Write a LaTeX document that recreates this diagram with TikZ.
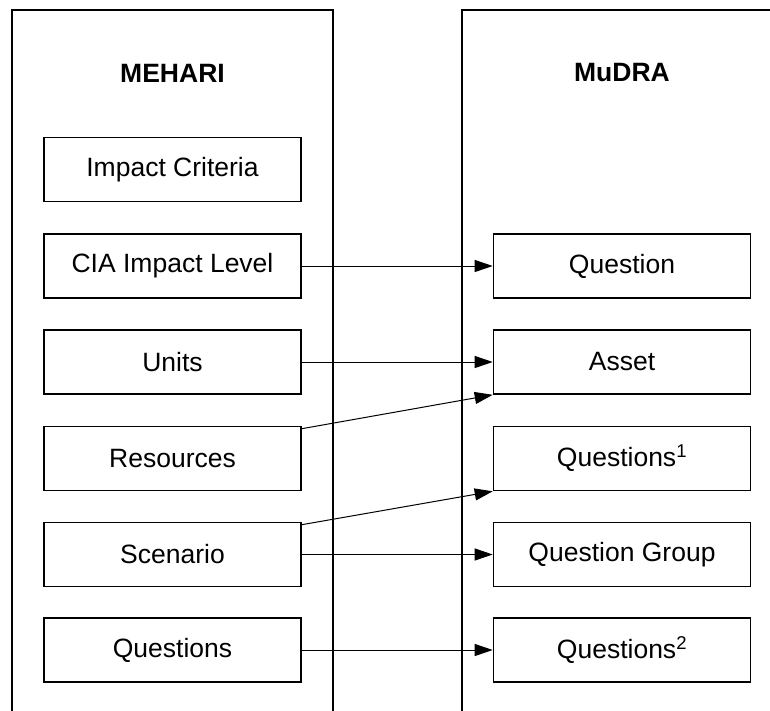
\documentclass[tikz,border=0pt]{standalone}
\usepackage{fontspec}
\setmainfont{Liberation Sans}
\usetikzlibrary{arrows.meta}
\begin{document}
\begin{tikzpicture}[x=1pt,y=-1pt,
  frame/.style={line width=1.6pt},
  item/.style={draw,line width=1.6pt,minimum width=257pt,minimum height=64pt,
    inner sep=0pt,font=\fontsize{26.5}{30}\selectfont},
  title/.style={font=\fontsize{26.5}{30}\selectfont\bfseries},
  link/.style={line width=1pt,-{Triangle[length=18pt,width=12pt]}}]
  \useasboundingbox (0,0) rectangle (770,711);
  % column frames, open at the bottom (and at the right for MuDRA)
  \draw[frame] (12,712) -- (12,10) -- (333,10) -- (333,712);
  \draw[frame] (462,712) -- (462,10) -- (771,10);
  \node[title] (mehari) at (172.5,73) {MEHARI};
  \node[title] (mudra) at (622,73) {MuDRA};
  % MEHARI items
  \node[item] (impact) at (172.5,169.5) {Impact Criteria};
  \node[item] (cia) at (172.5,266) {CIA Impact Level};
  \node[item] (units) at (172.5,362) {Units};
  \node[item] (res) at (172.5,458.5) {Resources};
  \node[item] (scen) at (172.5,554.5) {Scenario};
  \node[item] (quests) at (172.5,650) {Questions};
  % MuDRA items
  \node[item] (question) at (622,266) {Question};
  \node[item] (asset) at (622,362) {Asset};
  \node[item] (qone) at (622,458.5) {Questions\textsuperscript{1}};
  \node[item] (qgroup) at (622,554.5) {Question Group};
  \node[item] (qtwo) at (622,650) {Questions\textsuperscript{2}};
  % mappings
  \draw[link] (cia.east) -- (question.west);
  \draw[link] (units.east) -- (asset.west);
  \draw[link] ([yshift=-3pt]res.north east) -- (asset.south west);
  \draw[link] ([yshift=-3pt]scen.north east) -- (qone.south west);
  \draw[link] (scen.east) -- (qgroup.west);
  \draw[link] (quests.east) -- (qtwo.west);
\end{tikzpicture}
\end{document}
